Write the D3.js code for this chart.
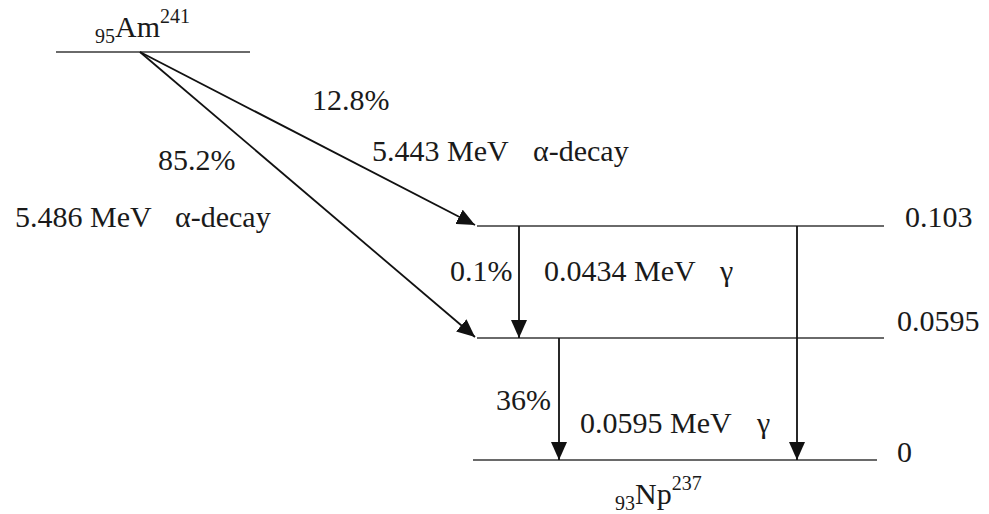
<!DOCTYPE html>
<html><head><meta charset="utf-8"><script src="https://cdn.jsdelivr.net/npm/d3@7"></script></head>
<body style="margin:0">
<svg id="c" width="989" height="514"></svg>
<script>
// ---- data ----
const levelEnergies = [5.546, 0.103, 0.0595, 0];        // MeV (parent Am level, Np levels)
const levelLabels   = ["", "0.103", "0.0595", "0"];
const alphaTargets  = [0.103, 0.0595];
const alphaPercents = ["12.8%", "85.2%"];
const alphaEnergies = ["5.443 MeV", "5.486 MeV"];
const gammaFrom     = [0.103, 0.0595, 0.103];
const gammaTo       = [0.0595, 0, 0];
const gammaPercents = ["0.1%", "36%", ""];
const gammaEnergies = ["0.0434 MeV", "0.0595 MeV", ""];

// ---- layout ----
const FS = 30;
const svg = d3.select("#c");
const y = d3.scaleLinear()
  .domain([0, 0.0595, 0.103, 5.546])
  .range([460, 338, 226, 52]);

function txt(x, yb, s, size) {
  return svg.append("text").attr("x", x).attr("y", yb)
    .style("font-family", "Liberation Serif").attr("font-size", size || FS)
    .attr("fill", "#1a1a1a")
    .text(s);
}

const defs = svg.append("defs");
defs.append("marker")
  .attr("id", "head")
  .attr("viewBox", "0 0 18 16")
  .attr("refX", 18).attr("refY", 8)
  .attr("markerWidth", 18).attr("markerHeight", 16)
  .attr("markerUnits", "userSpaceOnUse")
  .attr("orient", "auto")
  .append("path").attr("d", "M0,0 L18,8 L0,16 Z").attr("fill", "#111");

// level lines
const levelX = {5.546: [56, 250], 0.103: [477, 884], 0.0595: [477, 884], 0: [473, 877]};
svg.append("g").selectAll("line").data(levelEnergies).join("line")
  .attr("x1", d => levelX[d][0]).attr("x2", d => levelX[d][1])
  .attr("y1", d => y(d)).attr("y2", d => y(d))
  .attr("stroke", "#6a6a6a").attr("stroke-width", 1.8);

// level labels
const labelX = {0.103: 905, 0.0595: 897, 0: 897};
const labelDy = {0.103: 1, 0.0595: -7, 0: 2};
levelEnergies.forEach((d, i) => {
  if (levelLabels[i] === "") return;
  txt(labelX[d], y(d) + labelDy[d], levelLabels[i]);
});

// alpha arrows
const origin = [140, y(5.546)];
svg.append("g").selectAll("line").data(alphaTargets).join("line")
  .attr("x1", origin[0]).attr("y1", origin[1])
  .attr("x2", 475).attr("y2", d => y(d) - 1)
  .attr("stroke", "#111").attr("stroke-width", 1.8)
  .attr("marker-end", "url(#head)");

// gamma arrows
const gammaX = [519, 559, 797];
svg.append("g").selectAll("line").data(gammaFrom).join("line")
  .attr("x1", (d, i) => gammaX[i]).attr("x2", (d, i) => gammaX[i])
  .attr("y1", d => y(d)).attr("y2", (d, i) => y(gammaTo[i]))
  .attr("stroke", "#111").attr("stroke-width", 1.8)
  .attr("marker-end", "url(#head)");

// alpha labels
const ap = [[312, 110], [158, 170]];
const ae = [[372, 161], [15, 227]];
const aa = [[533, 161], [175, 227]];
alphaPercents.forEach((t, i) => {
  txt(ap[i][0], ap[i][1], t);
  txt(ae[i][0], ae[i][1], alphaEnergies[i]);
  txt(aa[i][0], aa[i][1], "α-decay");
});

// gamma labels
const gp = [[450, 281], [496, 410]];
const ge = [[544, 281], [580, 433]];
const gg = [[720, 281], [757, 433]];
gammaPercents.forEach((t, i) => {
  if (!t) return;
  txt(gp[i][0], gp[i][1], t);
  txt(ge[i][0], ge[i][1], gammaEnergies[i]);
  txt(gg[i][0], gg[i][1], "γ", 30);
});

// nuclide labels
function nuclide(x, yb, z, sym, a) {
  const t = txt(x, yb, "");
  t.append("tspan").attr("font-size", 20).attr("dy", 6).text(z);
  t.append("tspan").attr("dy", -6).text(sym);
  t.append("tspan").attr("font-size", 20).attr("dy", -14).text(a);
}
nuclide(95, 37, "95", "Am", "241");
nuclide(615, 504, "93", "Np", "237");
</script>
</body>
</html>
